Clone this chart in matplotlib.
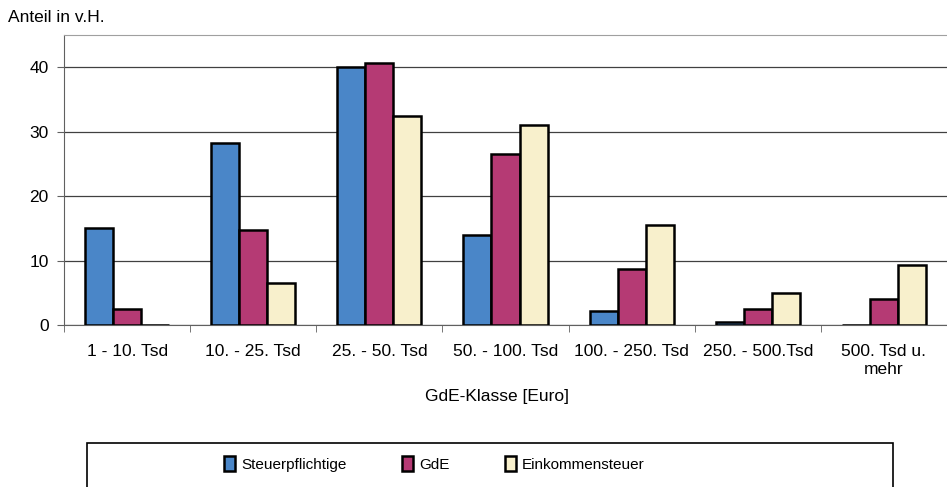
import matplotlib.pyplot as plt
import numpy as np
from matplotlib.patches import Rectangle

plt.rcParams['font.family'] = ['Liberation Sans', 'DejaVu Sans']

klassen = ['1 - 10. Tsd', '10. - 25. Tsd', '25. - 50. Tsd', '50. - 100. Tsd',
           '100. - 250. Tsd', '250. - 500.Tsd', '500. Tsd u.\nmehr']
steuerpflichtige = [15.1, 28.2, 40.0, 14.0, 2.1, 0.4, 0.0]
gde = [2.5, 14.8, 40.7, 26.6, 8.7, 2.5, 4.0]
einkommensteuer = [0.0, 6.5, 32.4, 31.0, 15.5, 5.0, 9.3]

reihen = ['Steuerpflichtige', 'GdE', 'Einkommensteuer']
farben = ['#4a86c8', '#b53a74', '#f8f0cc']

fig = plt.figure(figsize=(9.47, 4.87), dpi=100)
ax = fig.add_axes([64/947, 1 - 325/487, 883/947, 290/487])

x = np.arange(len(klassen))
w = 0.222
for i, (werte, name, farbe) in enumerate(zip([steuerpflichtige, gde, einkommensteuer], reihen, farben)):
    ax.bar(x + (i - 1) * w, werte, width=w, color=farbe, edgecolor='black',
           linewidth=1.8, label=name, zorder=3)

ax.set_xlim(-0.5, len(klassen) - 0.5)
ax.set_ylim(0, 45)
ax.set_yticks([0, 10, 20, 30, 40])
ax.yaxis.grid(True, color='#404040', linewidth=0.9, zorder=0)

ax.set_xticks(x)
ax.set_xticklabels(klassen, fontsize=12.5)
ax.set_xticks(np.arange(len(klassen) + 1) - 0.5, minor=True)
ax.tick_params(axis='x', which='major', length=0, pad=14)
ax.tick_params(axis='x', which='minor', length=5, direction='out', color='#606060')
ax.tick_params(axis='y', labelsize=12.5, length=5, color='#606060', pad=6)

for s in ['left', 'bottom']:
    ax.spines[s].set_color('#606060')
ax.spines['top'].set_color('#a0a0a0')
ax.spines['right'].set_visible(False)

fig.text(8/947, 1 - 18/487, 'Anteil in v.H.', fontsize=12.5, va='center', ha='left')
fig.text(497/947, 1 - 397/487, 'GdE-Klasse [Euro]', fontsize=12.5, va='center', ha='center')

fig.patches.append(Rectangle((87/947, -0.1), (893 - 87)/947, 0.1 + 1 - 443/487,
                             transform=fig.transFigure, fill=False,
                             edgecolor='black', linewidth=1.2))
handles, labels = ax.get_legend_handles_labels()
fig.legend(handles, labels, loc='center', bbox_to_anchor=(0.459, 1 - 464/487),
           ncol=3, frameon=False, fontsize=11, handlelength=0.7, handleheight=1.1,
           handletextpad=0.4, columnspacing=3.65)

fig.savefig('out.png', dpi=100)
